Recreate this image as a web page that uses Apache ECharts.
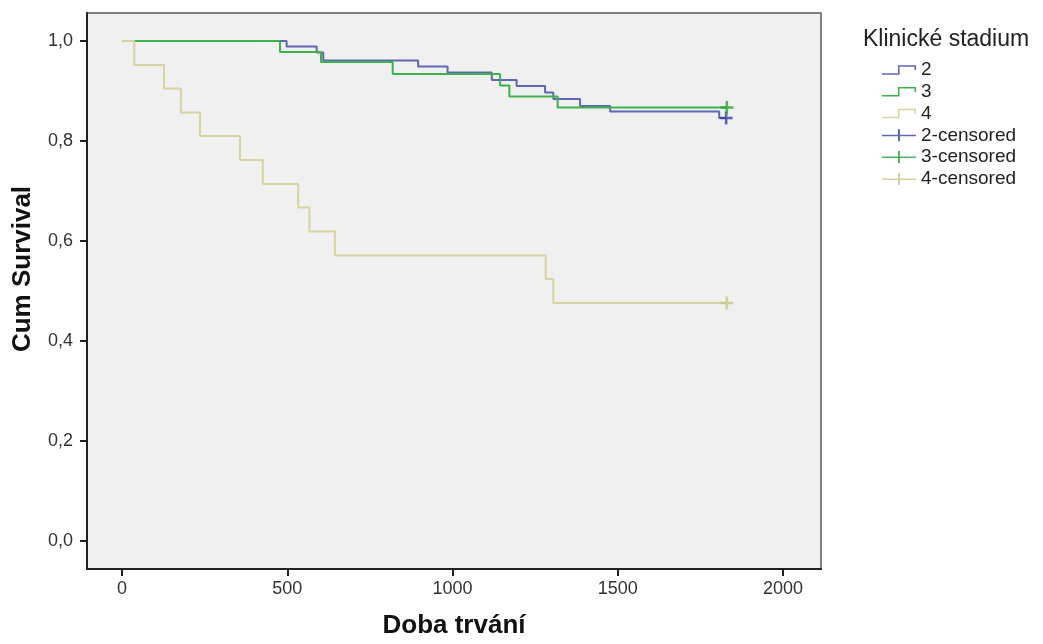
<!DOCTYPE html>
<html>
<head>
<meta charset="utf-8">
<script src="https://cdn.jsdelivr.net/npm/echarts@6/dist/echarts.min.js"></script>
<style>
  html, body { margin: 0; padding: 0; background: #fff; }
  #chart { width: 1043px; height: 644px; }
</style>
</head>
<body>
<div id="chart"></div>
<script>
// survival curves (Kaplan-Meier)
const stage2Times = [0, 498, 589, 609, 896, 985, 1119, 1194, 1280, 1305, 1386, 1477, 1807, 1828];
const stage2Surv = [1, 0.989, 0.977, 0.961, 0.949, 0.937, 0.922, 0.910, 0.897, 0.884, 0.870, 0.859, 0.846, 0.846];
const stage3Times = [0, 478, 602, 819, 1144, 1172, 1318, 1830];
const stage3Surv = [1, 0.978, 0.958, 0.934, 0.911, 0.889, 0.867, 0.867];
const stage4Times = [0, 37, 127, 178, 236, 357, 426, 533, 567, 644, 1282, 1305, 1830];
const stage4Surv = [1, 0.952, 0.905, 0.857, 0.810, 0.762, 0.714, 0.667, 0.619, 0.571, 0.524, 0.476, 0.476];

// censored marks
const censor2Times = [1828];
const censor2Surv = [0.846];
const censor3Times = [1830];
const censor3Surv = [0.867];
const censor4Times = [1830];
const censor4Surv = [0.476];

const xTicks = [0, 500, 1000, 1500, 2000];
const yTicks = [0, 0.2, 0.4, 0.6, 0.8, 1.0];
const seriesNames = ["2", "3", "4", "2-censored", "3-censored", "4-censored"];

const FONT = "Liberation Sans";
const stepIcon = "path://M0,8H16V0H34V5H32.5V1.5H17.5V9.5H0Z";
const plusIcon = "path://M0,5.5H16V0H18V5.5H34V7H18V12H16V7H0Z";
const plusMark = "path://M4,0H6V4H10V6H6V10H4V6H0V4H4Z";

function zip(xs, ys) {
  return xs.map((x, i) => [x, ys[i]]);
}

const chart = echarts.init(document.getElementById("chart"));

function stepLine(name, xs, ys, color) {
  return {
    name: name,
    type: "line",
    step: "end",
    data: zip(xs, ys),
    showSymbol: false,
    symbol: "none",
    lineStyle: { color: color, width: 2 },
    itemStyle: { color: color },
    z: 3
  };
}

function censorMarks(name, xs, ys, color) {
  return {
    name: name,
    type: "scatter",
    data: zip(xs, ys),
    symbol: plusMark,
    symbolSize: 13,
    itemStyle: { color: color },
    z: 4
  };
}

const option = {
  animation: false,
  backgroundColor: "#fff",
  textStyle: { fontFamily: FONT },
  grid: {
    left: 87,
    top: 13,
    width: 734,
    height: 557,
    show: true,
    backgroundColor: "#f0f0f0",
    borderColor: "#5a5a5a",
    borderWidth: 1.5
  },
  title: {
    text: "Klinické stadium",
    left: 863,
    top: 28,
    padding: 0,
    textStyle: { fontFamily: FONT, fontSize: 23, fontWeight: "normal", color: "#222" }
  },
  graphic: [
    {
      type: "text",
      x: 23,
      y: 269,
      rotation: Math.PI / 2,
      style: {
        text: "Cum Survival",
        align: "center",
        verticalAlign: "middle",
        font: "bold 26px 'Liberation Sans'",
        fill: "#111"
      }
    }
  ],
  legend: {
    orient: "vertical",
    left: 882,
    top: 59,
    padding: 0,
    itemWidth: 34,
    itemHeight: 12,
    itemGap: 0,
    selectedMode: false,
    textStyle: { fontFamily: FONT, fontSize: 19, lineHeight: 21.8, color: "#222" },
    data: [
      { name: "2", icon: stepIcon },
      { name: "3", icon: stepIcon },
      { name: "4", icon: stepIcon },
      { name: "2-censored", icon: plusIcon },
      { name: "3-censored", icon: plusIcon },
      { name: "4-censored", icon: plusIcon }
    ]
  },
  xAxis: {
    type: "value",
    min: -106,
    max: 2115,
    name: "Doba trvání",
    nameLocation: "middle",
    nameGap: 44,
    nameTextStyle: { fontFamily: FONT, fontSize: 26, fontWeight: "bold", color: "#111" },
    splitLine: { show: false },
    axisLine: { show: true, onZero: false, lineStyle: { color: "#222", width: 2 } },
    axisTick: { show: true, length: 7, customValues: xTicks, lineStyle: { color: "#222", width: 2 } },
    axisLabel: {
      customValues: xTicks,
      margin: 11,
      fontFamily: FONT,
      fontSize: 18,
      color: "#333",
      formatter: v => String(v)
    }
  },
  yAxis: {
    type: "value",
    min: -0.056,
    max: 1.056,
    splitLine: { show: false },
    axisLine: { show: true, onZero: false, lineStyle: { color: "#222", width: 2 } },
    axisTick: { show: true, length: 7, customValues: yTicks, lineStyle: { color: "#222", width: 2 } },
    axisLabel: {
      customValues: yTicks,
      margin: 14,
      fontFamily: FONT,
      fontSize: 18,
      color: "#333",
      formatter: v => v.toFixed(1).replace(".", ",")
    }
  },
  series: [
    stepLine(seriesNames[0], stage2Times, stage2Surv, "#5f67b5"),
    stepLine(seriesNames[1], stage3Times, stage3Surv, "#3db24c"),
    stepLine(seriesNames[2], stage4Times, stage4Surv, "#d8d3a0"),
    censorMarks(seriesNames[3], censor2Times, censor2Surv, "#34429a"),
    censorMarks(seriesNames[4], censor3Times, censor3Surv, "#27a236"),
    censorMarks(seriesNames[5], censor4Times, censor4Surv, "#c9c48c")
  ]
};

chart.setOption(option);
</script>
</body>
</html>
